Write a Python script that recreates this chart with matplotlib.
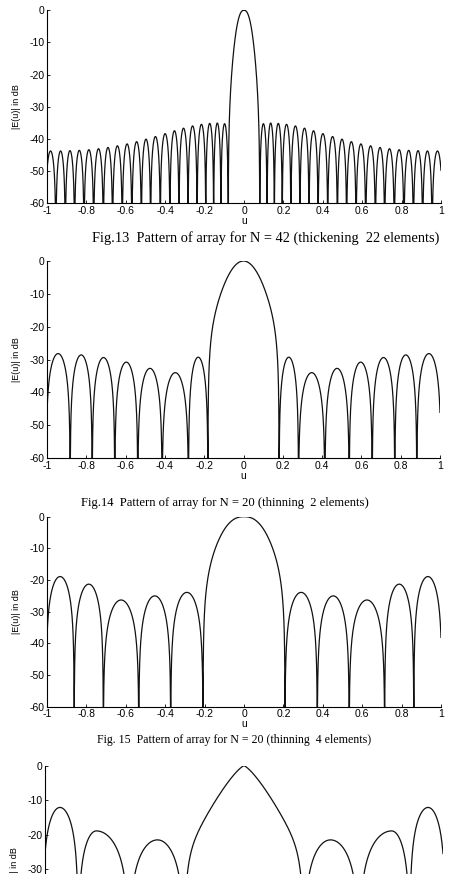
import numpy as np
import matplotlib
matplotlib.use("Agg")
import matplotlib.pyplot as plt

plt.rcParams["axes.unicode_minus"] = False
plt.rcParams["font.family"] = ["Liberation Sans", "DejaVu Sans"]

# Patterns are symmetric in u, so only the right half (u >= 0) is listed.
# nulls: u of each null, starting with the main-lobe null
# peaks: sidelobe peak level in dB, one per gap between nulls

# Fig.13  N = 42 (thickening 22 elements)
f13_nulls = [0.080, 0.117, 0.154, 0.194, 0.238, 0.284, 0.330, 0.376, 0.425, 0.474, 0.521,
             0.569, 0.618, 0.667, 0.714, 0.763, 0.812, 0.860, 0.907, 0.955, 1.009]
f13_peaks = [-35.3, -35.1, -35.2, -35.5, -36.0, -36.7, -37.5, -38.4, -39.3, -40.1,
             -40.9, -41.6, -42.2, -42.7, -43.1, -43.4, -43.6, -43.7, -43.8, -43.8]

# Fig.14  N = 20 (thinning 2 elements)
f14_nulls = [0.181, 0.280, 0.414, 0.538, 0.655, 0.770, 0.882, 1.005]
f14_peaks = [-29.3, -34.0, -32.7, -30.8, -29.4, -28.6, -28.2]

# Fig.15  N = 20 (thinning 4 elements)
f15_nulls = [0.208, 0.372, 0.534, 0.714, 0.862, 1.005]
f15_peaks = [-23.9, -25.0, -26.3, -21.3, -18.9]

# next figure (only its top part is visible)
f16_nulls = [0.300, 0.578, 0.833, 1.012]
f16_peaks = [-21.5, -18.9, -12.1]
f16_peak_pos = [0.435, 0.742, 0.925]

x_ticks = [-1, -0.8, -0.6, -0.4, -0.2, 0, 0.2, 0.4, 0.6, 0.8, 1]
x_labels = ["-1", "-0.8", "-0.6", "-0.4", "-0.2", "0", "0.2", "0.4", "0.6", "0.8", "1"]
y_ticks = [-60, -50, -40, -30, -20, -10, 0]
y_labels = ["-60", "-50", "-40", "-30", "-20", "-10", "0"]

captions = ["Fig.13  Pattern of array for N = 42 (thickening  22 elements)",
            "Fig.14  Pattern of array for N = 20 (thinning  2 elements)",
            "Fig. 15  Pattern of array for N = 20 (thinning  4 elements)"]


def pattern_db(u, nulls, peaks, main_k, main_p, peak_pos=None):
    # main lobe: power-law in dB that falls sharply into its null,
    # sidelobes: sine arches between nulls
    nulls = np.asarray(nulls)
    if peak_pos is None:
        peak_pos = (nulls[:-1] + nulls[1:]) / 2
    a = np.abs(u)
    db = np.full(u.shape, -200.0)
    m = a < nulls[0]
    r = a[m] / nulls[0]
    db[m] = -main_k * r ** main_p + 20 * np.log10(np.clip(1 - r ** 12, 1e-10, None))
    for lo, hi, c, lev in zip(nulls[:-1], nulls[1:], peak_pos, peaks):
        s = (a > lo) & (a < hi)
        t = np.where(a[s] < c, 0.5 * (a[s] - lo) / (c - lo), 0.5 + 0.5 * (a[s] - c) / (hi - c))
        db[s] = lev + 20 * np.log10(np.sin(np.pi * t))
    return np.maximum(db, -200)


u = np.linspace(-1, 1, 4001)

fig = plt.figure(figsize=(4.5, 8.74), dpi=100)

# axes boxes in pixels: left, right, top, bottom (y from top of image)
boxes = [(47, 441, 10.3, 203), (47, 440, 261, 458), (47, 441, 516.7, 706.7), (45, 443, 765.7, 972.7)]
curves = [pattern_db(u, f13_nulls, f13_peaks, 35.1, 2.44),
          pattern_db(u, f14_nulls, f14_peaks, 24.3, 2.0),
          pattern_db(u, f15_nulls, f15_peaks, 23.2, 2.39),
          pattern_db(u, f16_nulls, f16_peaks, 26.5, 1.3, f16_peak_pos)]

for i, ((l, r, t, b), db) in enumerate(zip(boxes, curves)):
    ax = fig.add_axes([l / 450, 1 - b / 874, (r - l) / 450, (b - t) / 874])
    ax.plot(u, db, color="#111111", lw=0.9)
    ax.set_xlim(-1, 1)
    ax.set_ylim(-60, 0)
    ax.set_xticks(x_ticks)
    ax.set_yticks(y_ticks)
    ax.set_yticklabels(y_labels)
    ax.tick_params(direction="in", length=2.5, width=0.6, labelsize=7.5, pad=2)
    ax.spines["top"].set_visible(False)
    ax.spines["right"].set_visible(False)
    ax.spines["left"].set_linewidth(0.8)
    ax.spines["bottom"].set_linewidth(0.8)
    ax.set_ylabel("|E(u)| in dB", fontsize=6.5, labelpad=6)
    if i < 3:
        ax.set_xticklabels(x_labels)
        ax.set_xlabel("u", fontsize=7.5, labelpad=0)
    else:
        # bottom of this panel lies below the page edge
        ax.tick_params(labelbottom=False)

cap_pos = [(266, 238, 10.4), (225, 503, 9.1), (234, 740, 8.6)]
for (cx, cy, fs), txt in zip(cap_pos, captions):
    fig.text(cx / 450, 1 - cy / 874, txt, ha="center", va="center",
             fontsize=fs, family="Liberation Serif")

fig.savefig("out.png", dpi=100)
